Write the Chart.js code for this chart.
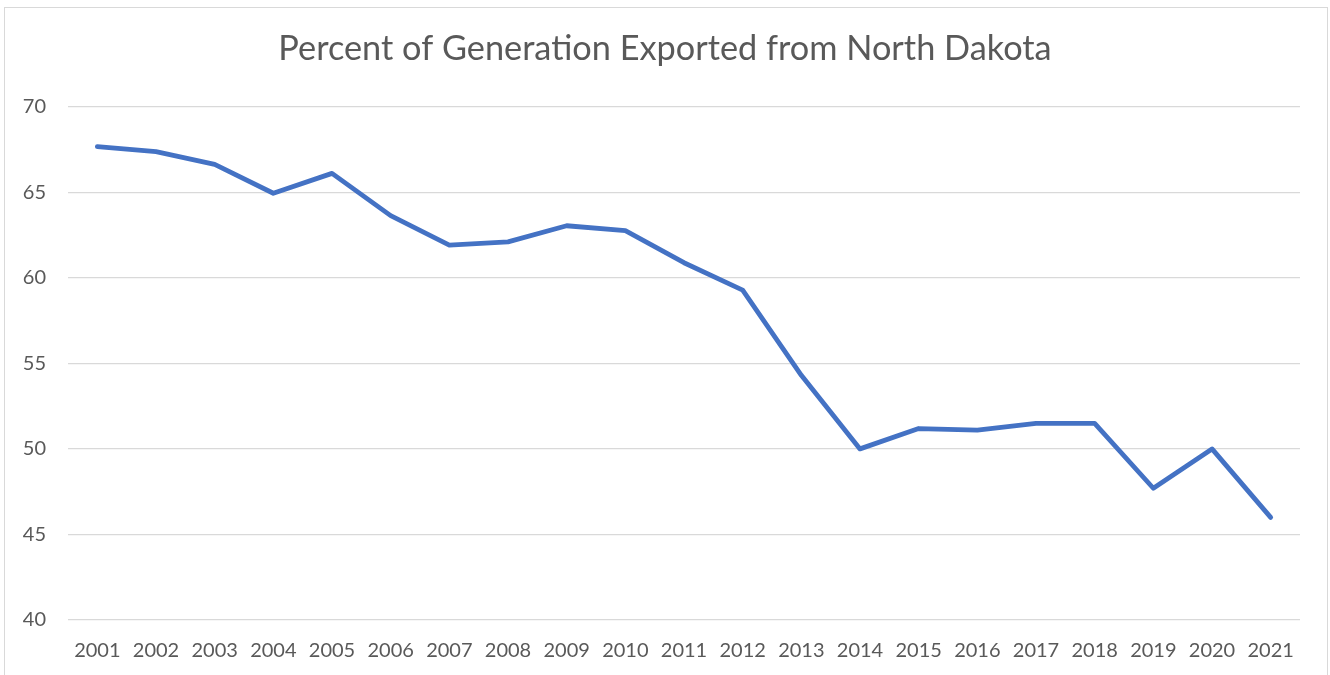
<!DOCTYPE html>
<html>
<head>
<meta charset="utf-8">
<script src="https://cdn.jsdelivr.net/npm/chart.js@4/dist/chart.umd.min.js"></script>
<style>
  html, body { margin: 0; padding: 0; background: #ffffff; overflow: hidden; }
  #wrap { position: absolute; left: 0; top: 0; width: 1330px; height: 675px; }
  #frame { position: absolute; left: 4px; top: 7px; width: 1324px; height: 700px; border: 1px solid #d9d9d9; box-sizing: border-box; pointer-events: none; }
</style>
</head>
<body>
<div id="wrap">
  <canvas id="c" width="1330" height="675"></canvas>
  <div id="frame"></div>
</div>
<script>
const years = ["2001","2002","2003","2004","2005","2006","2007","2008","2009","2010","2011","2012","2013","2014","2015","2016","2017","2018","2019","2020","2021"];
const percentExported = [67.66, 67.37, 66.63, 64.94, 66.1, 63.63, 61.91, 62.1, 63.04, 62.75, 60.88, 59.28, 54.3, 50.0, 51.19, 51.1, 51.49, 51.49, 47.7, 50.0, 46.0];
const yTicks = [40, 45, 50, 55, 60, 65, 70];
const chartTitle = "Percent of Generation Exported from North Dakota";

const FONT = "Lato, 'Open Sans', 'Liberation Sans', sans-serif";

new Chart(document.getElementById("c"), {
  type: "line",
  data: {
    labels: years,
    datasets: [{
      label: "Percent exported",
      data: percentExported,
      borderColor: "#4472C4",
      backgroundColor: "#4472C4",
      borderWidth: 4.8,
      borderCapStyle: "round",
      borderJoinStyle: "round",
      pointRadius: 0,
      pointHoverRadius: 0,
      tension: 0,
      fill: false
    }]
  },
  options: {
    responsive: false,
    animation: false,
    devicePixelRatio: 1,
    layout: { padding: { left: 0, right: 0, top: 0, bottom: 0 } },
    plugins: {
      legend: { display: false },
      tooltip: { enabled: false },
      title: {
        display: true,
        text: chartTitle,
        color: "#595959",
        font: { family: FONT, size: 34.3, weight: "normal" },
        padding: { top: 28, bottom: 37.5 }
      }
    },
    scales: {
      x: {
        offset: true,
        grid: { display: false },
        border: { display: false },
        ticks: {
          color: "#595959",
          font: { family: FONT, size: 20 },
          padding: 11,
          maxRotation: 0,
          autoSkip: false
        },
        afterFit: (s) => { s.height = 55; }
      },
      y: {
        min: 40,
        max: 70,
        afterBuildTicks: (s) => { s.ticks = yTicks.map(v => ({ value: v })); },
        grid: { color: "#d9d9d9", lineWidth: 1.3, drawTicks: false },
        border: { display: false },
        ticks: {
          color: "#595959",
          font: { family: FONT, size: 20 },
          padding: 22
        },
        afterFit: (s) => { s.width = 68; }
      },
      yRightSpace: {
        position: "right",
        display: true,
        min: 40,
        max: 70,
        grid: { display: false, drawTicks: false },
        border: { display: false },
        ticks: { display: false },
        afterFit: (s) => { s.width = 30; }
      }
    }
  }
});
</script>
</body>
</html>
